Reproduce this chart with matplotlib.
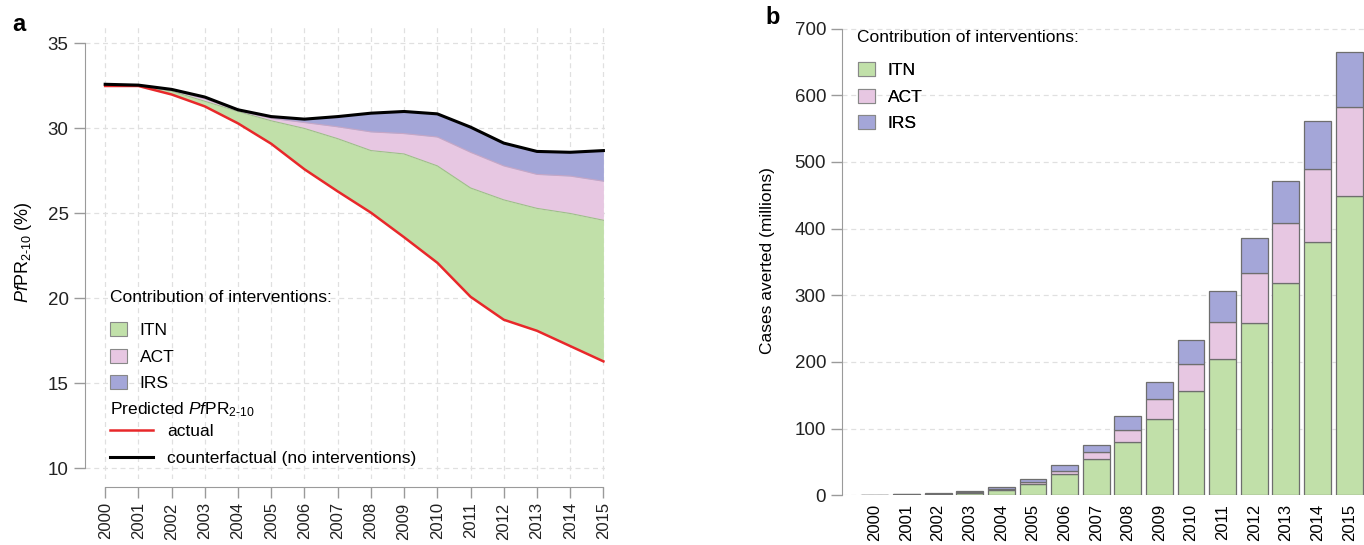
"""Malaria interventions: PfPR decline and cases averted, 2000-2015."""

import matplotlib
matplotlib.use("Agg")
import matplotlib.pyplot as plt
import numpy as np
from matplotlib.lines import Line2D
from matplotlib.patches import Patch

years = list(range(2000, 2016))

# panel a: predicted PfPR2-10 (%)
pfpr_actual = [32.5, 32.5, 32.0, 31.3, 30.3, 29.1, 27.6, 26.3, 25.05, 23.6, 22.1,
               20.1, 18.75, 18.1, 17.2, 16.3]
pfpr_itn_top = [32.5, 32.5, 32.2, 31.6, 31.0, 30.45, 30.0, 29.4, 28.7, 28.5, 27.8,
                26.5, 25.8, 25.3, 25.0, 24.6]
pfpr_act_top = [32.5, 32.5, 32.25, 31.75, 31.05, 30.6, 30.35, 30.1, 29.8, 29.7, 29.5,
                28.6, 27.8, 27.3, 27.2, 26.9]
pfpr_counterfactual = [32.6, 32.55, 32.3, 31.85, 31.1, 30.7, 30.55, 30.7, 30.9, 31.0,
                       30.86, 30.08, 29.14, 28.65, 28.6, 28.7]

# panel b: cases averted (millions)
cases_itn = [0.5, 0.8, 1.5, 3, 8, 17, 32, 54, 80, 115, 157, 204, 259, 318, 380, 449]
cases_act = [0.3, 0.4, 0.8, 1.5, 2, 3, 5, 11, 18, 29, 40, 56, 74, 90, 110, 134]
cases_irs = [0.3, 0.4, 0.8, 2.5, 3, 5, 8, 11, 21, 26, 36, 47, 53, 63, 72, 82]

C_ITN = "#c1e0a9"
C_ACT = "#e7c7e2"
C_IRS = "#a4a6d8"
GRID = "#e0e0e0"
AXC = "#9a9a9a"
FS_LEG = 12.5
W, H = 1364, 545

plt.rcParams["font.family"] = ["Liberation Sans", "DejaVu Sans"]
plt.rcParams["mathtext.fontset"] = "custom"
plt.rcParams["mathtext.rm"] = "Liberation Sans"
plt.rcParams["mathtext.it"] = "Liberation Sans:italic"

fig = plt.figure(figsize=(13.64, 5.45), dpi=100)


def fx(px):
    return px / W


def fy(py):
    return 1 - py / H


def patch_legend(ax, x, y_top):
    handles = [Patch(facecolor=c, edgecolor="#888888", lw=0.8, label=l)
               for c, l in [(C_ITN, "ITN"), (C_ACT, "ACT"), (C_IRS, "IRS")]]
    leg = ax.legend(handles=handles, loc="upper left", bbox_to_anchor=(fx(x), fy(y_top)),
                    bbox_transform=fig.transFigure, frameon=False, fontsize=FS_LEG,
                    handlelength=0.97, handleheight=0.85, labelspacing=0.62,
                    handletextpad=0.75, borderpad=0, borderaxespad=0)
    ax.add_artist(leg)
    return leg


# ---------------- panel a ----------------
ax = fig.add_axes([0.062, 0.1217, 0.3816, 0.8297])
for s in ["top", "right"]:
    ax.spines[s].set_visible(False)
ax.spines["bottom"].set_position(("outward", 6))
ax.spines["left"].set_bounds(10, 35)
ax.spines["bottom"].set_bounds(2000, 2015)
ax.spines["left"].set_color(AXC)
ax.spines["bottom"].set_color(AXC)

ax.fill_between(years, pfpr_actual, pfpr_itn_top, color=C_ITN, lw=0)
ax.fill_between(years, pfpr_itn_top, pfpr_act_top, color=C_ACT, lw=0)
ax.fill_between(years, pfpr_act_top, pfpr_counterfactual, color=C_IRS, lw=0)
ax.plot(years, pfpr_itn_top, color="#9dbf88", lw=0.8)
ax.plot(years, pfpr_act_top, color="#c6a6c6", lw=0.8)
ax.plot(years, pfpr_actual, color="#e8282a", lw=1.8)
ax.plot(years, pfpr_counterfactual, color="black", lw=2.2)

ax.set_xlim(1999.38, 2015.05)
ax.set_ylim(9.4, 36)
ax.set_yticks([10, 15, 20, 25, 30, 35])
ax.set_xticks(years)
ax.set_xticklabels([str(y) for y in years], rotation=90, fontsize=12)
ax.tick_params(axis="y", labelsize=13.5, colors=AXC, labelcolor="#222222", length=8, width=1)
ax.tick_params(axis="x", colors=AXC, labelcolor="#222222", length=8, width=1, pad=3)
for y in [10, 15, 20, 25, 30, 35]:
    ax.axhline(y, color=GRID, lw=0.9, ls=(0, (4, 3)), zorder=0)
for x in years:
    ax.axvline(x, color=GRID, lw=0.9, ls=(0, (4, 3)), zorder=0)
ax.set_ylabel(r"$Pf$PR$_{2\text{-}10}$ (%)", fontsize=13, labelpad=10)

fig.text(fx(110), fy(297), "Contribution of interventions:", fontsize=FS_LEG, va="center")
patch_legend(ax, 110, 322)
fig.text(fx(110), fy(410), r"Predicted $Pf$PR$_{2\text{-}10}$", fontsize=FS_LEG, va="center")
h_lines = [Line2D([], [], color="#e8282a", lw=1.8, label="actual"),
           Line2D([], [], color="black", lw=2.2, label="counterfactual (no interventions)")]
ax.legend(handles=h_lines, loc="upper left", bbox_to_anchor=(fx(110), fy(424)),
          bbox_transform=fig.transFigure, frameon=False, fontsize=FS_LEG,
          handlelength=2.5, labelspacing=0.65, handletextpad=0.8, borderpad=0,
          borderaxespad=0)

# ---------------- panel b ----------------
bx = fig.add_axes([0.6173, 0.0912, 0.3827, 0.8624])
idx = np.arange(len(years))
itn = np.array(cases_itn)
act = np.array(cases_act)
irs = np.array(cases_irs)
kw = dict(width=0.85, edgecolor="#6e6e6e", linewidth=0.9, zorder=2)
bx.bar(idx, itn, color=C_ITN, **kw)
bx.bar(idx, act, bottom=itn, color=C_ACT, **kw)
bx.bar(idx, irs, bottom=itn + act, color=C_IRS, **kw)
bx.set_xlim(-1.04, 15.47)
bx.set_ylim(0, 705)
bx.set_yticks(range(0, 701, 100))
for y in range(0, 701, 100):
    bx.axhline(y, color=GRID, lw=0.9, ls=(0, (4, 3)), zorder=0)
bx.set_xticks(idx)
bx.set_xticklabels([str(y) for y in years], rotation=90, fontsize=12)
bx.tick_params(axis="x", length=0, pad=6)
bx.tick_params(axis="y", labelsize=13.5, colors=AXC, labelcolor="#222222", length=8, width=1)
for s in ["top", "right", "bottom"]:
    bx.spines[s].set_visible(False)
bx.spines["left"].set_bounds(0, 700)
bx.spines["left"].set_color(AXC)
bx.set_ylabel("Cases averted (millions)", fontsize=12.5, labelpad=14)

fig.text(fx(857), fy(38), "Contribution of interventions:", fontsize=FS_LEG, va="center")
patch_legend(bx, 858, 62)

fig.text(0.009, 0.955, "a", fontsize=17, fontweight="bold", va="center")
fig.text(0.561, 0.968, "b", fontsize=17, fontweight="bold", va="center")

fig.savefig("out.png", dpi=100)
